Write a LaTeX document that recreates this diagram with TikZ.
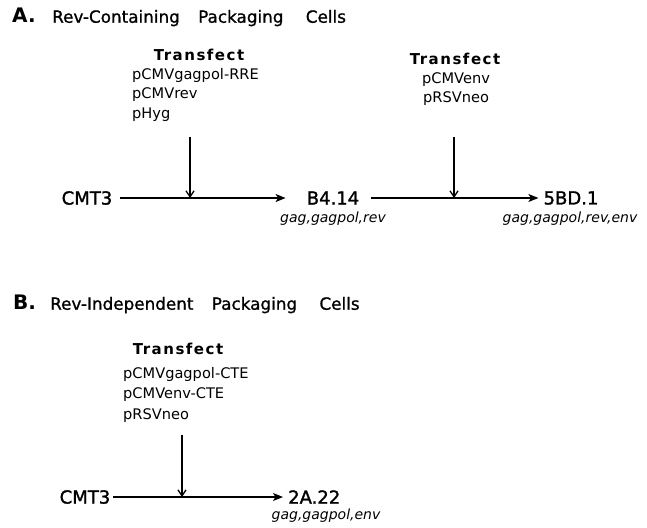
\documentclass[tikz,border=0pt]{standalone}
\usepackage{fontspec}
\setmainfont{DejaVu Sans}
\usepackage{tikz}
\usetikzlibrary{arrows.meta}
\tikzstyle{panel}=[inner sep=0, anchor=mid west, font=\fontsize{20}{24}\selectfont\bfseries]
\tikzstyle{heading}=[inner sep=0, anchor=mid west, font=\fontsize{16.8}{20}\selectfont\addfontfeature{FakeBold=1}]
\tikzstyle{transfect}=[inner sep=0, font=\fontsize{15}{18}\selectfont\bfseries\addfontfeature{LetterSpace=10}]
\tikzstyle{plasmids}=[inner sep=0, font=\fontsize{14.6}{19.5}\selectfont]
\tikzstyle{cell}=[inner sep=0, font=\fontsize{18}{21}\selectfont\addfontfeature{FakeBold=1.5}]
\tikzstyle{genes}=[inner sep=0, anchor=mid, font=\fontsize{14}{17}\selectfont\itshape]
\tikzstyle{flow}=[line width=1.3pt, -{Stealth[length=10pt, width=8pt, inset=2.5pt]}]
\tikzstyle{feed}=[line width=1.3pt, -{Straight Barb[length=6pt, width=8pt]}]
\begin{document}
\begin{tikzpicture}[x=1pt, y=-1pt]
        \useasboundingbox (0, 0) rectangle (647, 527);
        % A. Rev-containing cells
        \node[panel] (pA) at (12, 20) {A.};
        \node[heading] (hA) at (52, 20) {Rev-Containing\hspace{13pt} Packaging\hspace{17pt} Cells};
        \node[transfect] (tA1) at (199, 55) {Transfect};
        \node[plasmids, align=left, anchor=north west] (lA1) at (132, 68)
            {pCMVgagpol-RRE\\pCMVrev\\pHyg};
        \node[transfect] (tA2) at (455, 59) {Transfect};
        \node[plasmids, align=center, anchor=north] (lA2) at (456, 72)
            {pCMVenv\\pRSVneo};
        \node[cell] (cA) at (87, 198) {CMT3};
        \node[cell] (bA) at (333, 198) {B4.14};
        \node[cell] (fA) at (571, 198) {5BD.1};
        \node[genes] (gA1) at (333, 220) {gag,gagpol,rev};
        \node[genes] (gA2) at (570, 220) {gag,gagpol,rev,env};
        \coordinate (jA1) at (190, 198);
        \coordinate (jA2) at (454, 198);
        \draw[flow, shorten <=8pt, shorten >=21pt] (cA) -- (bA);
        \draw[flow, shorten <=12pt, shorten >=5pt] (bA) -- (fA);
        \draw[feed, shorten <=15pt] (lA1.south -| jA1) -- (jA1);
        \draw[feed, shorten <=31pt] (lA2.south -| jA2) -- (jA2);
        % B. Rev-independent cells
        \node[panel] (pB) at (13, 307) {B.};
        \node[heading] (hB) at (50, 307) {Rev-Independent\hspace{13pt} Packaging\hspace{17pt} Cells};
        \node[transfect] (tB) at (178, 349) {Transfect};
        \node[plasmids, align=left, anchor=north west] (lB) at (123, 367)
            {pCMVgagpol-CTE\\[1pt]pCMVenv-CTE\\[1pt]pRSVneo};
        \node[cell] (cB) at (85, 497) {CMT3};
        \node[cell, anchor=west] (aB) at (288, 497) {2A.22};
        \node[genes] (gB) at (326, 517) {gag,gagpol,env};
        \coordinate (jB) at (182, 497);
        \draw[flow, shorten <=3pt, shorten >=5pt] (cB) -- (aB);
        \draw[feed, shorten <=12pt] (lB.south -| jB) -- (jB);
\end{tikzpicture}
\end{document}
